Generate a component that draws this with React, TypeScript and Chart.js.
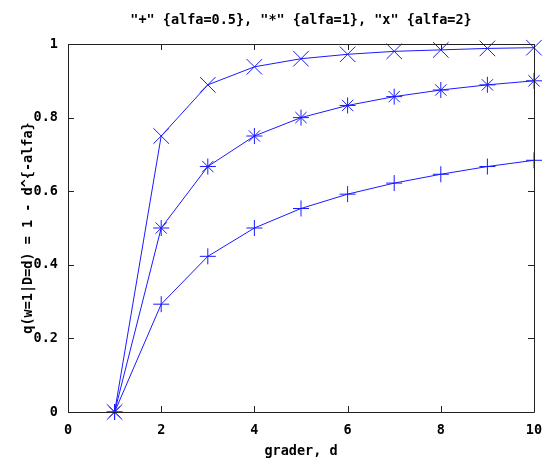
import React, { useEffect, useRef } from "react";
import { Chart, registerables } from "chart.js";

Chart.register(...registerables);

const degrees = [1, 2, 3, 4, 5, 6, 7, 8, 9, 10];
const alfaHalf = [0, 0.293, 0.423, 0.5, 0.553, 0.592, 0.622, 0.646, 0.667, 0.684];
const alfaOne = [0, 0.5, 0.667, 0.75, 0.8, 0.833, 0.857, 0.875, 0.889, 0.9];
const alfaTwo = [0, 0.75, 0.889, 0.938, 0.96, 0.972, 0.98, 0.984, 0.988, 0.99];
const titleText = '"+" {alfa=0.5}, "*" {alfa=1}, "x" {alfa=2}';
const xTitle = "grader, d";
const yTitle = "q(w=1|D=d) = 1 - d^{-alfa}";

const FONT = "'DejaVu Sans Mono', 'Liberation Mono', monospace";
const FS = 13.5;
const BLUE = "#1a1aff";

const framePlugin = {
  id: "frame",
  afterDraw(chart: any) {
    const { ctx, chartArea: a, scales } = chart;
    ctx.save();
    ctx.strokeStyle = "#222";
    ctx.lineWidth = 1;
    ctx.beginPath();
    ctx.rect(Math.round(a.left) + 0.5, Math.round(a.top) + 0.5, Math.round(a.right - a.left), Math.round(a.bottom - a.top));
    const tl = 6;
    scales.x.ticks.forEach((t: any) => {
      const px = Math.round(scales.x.getPixelForValue(t.value)) + 0.5;
      ctx.moveTo(px, a.bottom);
      ctx.lineTo(px, a.bottom - tl);
      ctx.moveTo(px, a.top);
      ctx.lineTo(px, a.top + tl);
    });
    scales.y.ticks.forEach((t: any) => {
      const py = Math.round(scales.y.getPixelForValue(t.value)) + 0.5;
      ctx.moveTo(a.left, py);
      ctx.lineTo(a.left + tl, py);
      ctx.moveTo(a.right, py);
      ctx.lineTo(a.right - tl, py);
    });
    ctx.stroke();
    ctx.restore();
  },
};

export default function App() {
  const ref = useRef<HTMLCanvasElement>(null);
  useEffect(() => {
    const mk = (ys: number[]) => degrees.map((d, i) => ({ x: d, y: ys[i] }));
    const ds = (ys: number[], style: string, r: number) => ({
      data: mk(ys),
      borderColor: BLUE,
      backgroundColor: BLUE,
      borderWidth: 1,
      pointStyle: style,
      pointRadius: r,
      pointBorderWidth: 1,
      pointBorderColor: BLUE,
      clip: false,
    });
    const chart = new Chart(ref.current!, {
      type: "line",
      data: {
        datasets: [
          ds(alfaHalf, "cross", 8),
          ds(alfaOne, "star", 8),
          ds(alfaTwo, "crossRot", 11),
        ] as any,
      },
      plugins: [framePlugin],
      options: {
        animation: false,
        responsive: false,
        layout: { padding: { left: 0, right: 9, top: 0, bottom: 0 } },
        plugins: {
          legend: { display: false },
          tooltip: { enabled: false },
          title: {
            display: true,
            text: titleText,
            fullSize: false,
            color: "#000",
            font: { family: FONT, size: FS, weight: "bold" },
            padding: { top: 12, bottom: 15.8 },
          },
        },
        scales: {
          x: {
            type: "linear",
            min: 0,
            max: 10,
            grid: { display: false, drawTicks: false },
            border: { display: false },
            ticks: {
              stepSize: 2,
              padding: 10,
              color: "#000",
              maxRotation: 0,
              font: { family: FONT, size: FS, weight: "bold" },
            },
            title: {
              display: true,
              text: xTitle,
              color: "#000",
              font: { family: FONT, size: FS, weight: "bold" },
              padding: { top: 0, bottom: 2 },
            },
            afterFit: (s: any) => {
              s.height = 50;
              s.paddingLeft = 0;
              s.paddingRight = 0;
            },
          },
          y: {
            type: "linear",
            min: 0,
            max: 1,
            grid: { display: false, drawTicks: false },
            border: { display: false },
            ticks: {
              stepSize: 0.2,
              padding: 10,
              color: "#000",
              font: { family: FONT, size: FS, weight: "bold" },
              callback: (v: any) => (v === 0 ? "0" : v === 1 ? "1" : Number(v).toFixed(1)),
            },
            title: {
              display: true,
              text: yTitle,
              color: "#000",
              font: { family: FONT, size: FS, weight: "bold" },
              padding: { top: 20, bottom: 0 },
            },
            afterFit: (s: any) => {
              s.width = 68;
              s.paddingTop = 0;
              s.paddingBottom = 0;
            },
          },
        },
      } as any,
    });
    return () => chart.destroy();
  }, []);
  return (
    <div style={{ position: "absolute", left: 0, top: 0, width: 546, height: 462, background: "#fff" }}>
      <canvas ref={ref} width={546} height={462} />
    </div>
  );
}
